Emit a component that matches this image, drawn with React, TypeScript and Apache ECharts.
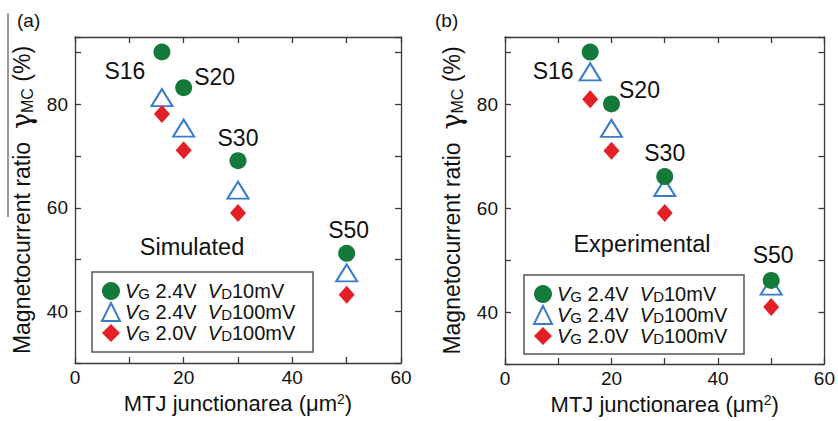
import React, { useEffect, useRef } from "react";
import * as echarts from "echarts";

// ---- data ----
const areas = [16, 20, 30, 50];
const sampleNames = ["S16", "S20", "S30", "S50"];
const simVg24Vd10 = [90.1, 83.2, 69.1, 51.2];
const simVg24Vd100 = [81.3, 75.4, 63.4, 47.4];
const simVg20Vd100 = [78.1, 71.1, 59.0, 43.2];
const expVg24Vd10 = [90.1, 80.1, 66.1, 46.1];
const expVg24Vd100 = [86.3, 75.4, 64.0, 45.0];
const expVg20Vd100 = [81.0, 71.1, 59.1, 41.0];
const seriesNames = ["VG 2.4V VD10mV", "VG 2.4V VD100mV", "VG 2.0V VD100mV"];
const legendRich = [
  "{i|V}{s|G}{n| 2.4V  }{i|V}{s|D}{n|10mV}",
  "{i|V}{s|G}{n| 2.4V  }{i|V}{s|D}{n|100mV}",
  "{i|V}{s|G}{n| 2.0V  }{i|V}{s|D}{n|100mV}",
];
const panelTags = ["(a)", "(b)"];
const panelTitles = ["Simulated", "Experimental"];

// ---- styles ----
const FONT = "Arial, 'Liberation Sans', sans-serif";
const GREEN = "#137a3a";
const BLUE = "#3b7bcc";
const RED = "#e41f26";
const AXIS = "#3a3a3a";
const TXT = "#111";
const grids = [
  { left: 75, top: 37, width: 326, height: 326 },
  { left: 505, top: 37, width: 326, height: 327 },
];
const labelOffsets = [
  [[-37, 19], [31, -11], [0, -23], [2, -23]],
  [[-37, 19], [28, -14], [0, -24], [2, -25]],
];

export default function App() {
  const ref = useRef<HTMLDivElement>(null);
  useEffect(() => {
    const chart = echarts.init(ref.current!, null, { renderer: "svg" });
    const lineStyle = { color: AXIS, width: 1.3 };
    const xAxes: any[] = [];
    const yAxes: any[] = [];
    const series: any[] = [];
    const panelData = [
      [simVg24Vd10, simVg24Vd100, simVg20Vd100],
      [expVg24Vd10, expVg24Vd100, expVg20Vd100],
    ];
    grids.forEach((_, g) => {
      xAxes.push({
        gridIndex: g, type: "value", min: 0, max: 60, interval: 10, position: "bottom",
        axisLine: { show: true, onZero: false, lineStyle },
        axisTick: { inside: true, length: 6, lineStyle },
        axisLabel: {
          fontSize: 19, color: TXT, fontFamily: FONT, margin: 5,
          formatter: (v: number) => (v % 20 === 0 ? String(v) : ""),
        },
        splitLine: { show: false },
        name: "MTJ junctionarea ({n|μm}{sup|2}{n|)}",
        nameLocation: "middle", nameGap: 29,
        nameTextStyle: {
          fontSize: 22, color: TXT, fontFamily: FONT,
          rich: {
            n: { fontSize: 22, fontFamily: FONT, color: TXT },
            sup: { fontSize: 14, fontFamily: FONT, color: TXT, verticalAlign: "top", lineHeight: 22 },
          },
        },
      });
      xAxes.push({
        gridIndex: g, type: "value", min: 0, max: 60, interval: 10, position: "top",
        axisLine: { show: true, onZero: false, lineStyle },
        axisTick: { inside: true, length: 6, lineStyle },
        axisLabel: { show: false }, splitLine: { show: false },
      });
      yAxes.push({
        gridIndex: g, type: "value", min: 30, max: 93, interval: 10, position: "left",
        axisLine: { show: true, onZero: false, lineStyle },
        axisTick: { inside: true, length: 6, lineStyle },
        axisLabel: {
          fontSize: 19, color: TXT, fontFamily: FONT, margin: 7,
          formatter: (v: number) => (v % 20 === 0 ? String(v) : ""),
        },
        splitLine: { show: false },
        name: "Magnetocurrent ratio  {g|γ}{sub|MC} (%)",
        nameLocation: "middle", nameGap: 40,
        nameTextStyle: {
          fontSize: 23, color: TXT, fontFamily: FONT,
          rich: {
            g: { fontSize: 27, fontFamily: "'DejaVu Serif', serif", color: TXT },
            sub: { fontSize: 16, fontFamily: FONT, color: TXT, verticalAlign: "bottom" },
          },
        },
      });
      yAxes.push({
        gridIndex: g, type: "value", min: 30, max: 93, interval: 10, position: "right",
        axisLine: { show: true, onZero: false, lineStyle },
        axisTick: { inside: true, length: 6, lineStyle },
        axisLabel: { show: false }, splitLine: { show: false },
      });
      const [gr, tr, rd] = panelData[g];
      const xi = g * 2;
      series.push({
        type: "scatter", name: seriesNames[1], xAxisIndex: xi, yAxisIndex: xi, z: 2,
        symbol: "triangle", symbolSize: [21, 17],
        itemStyle: { color: "rgba(255,255,255,0)", borderColor: BLUE, borderWidth: 2, opacity: 1 },
        data: areas.map((a, k) => [a, tr[k]]),
      });
      series.push({
        type: "scatter", name: seriesNames[2], xAxisIndex: xi, yAxisIndex: xi, z: 3,
        symbol: "diamond", symbolSize: [16, 18],
        itemStyle: { color: RED, opacity: 1 },
        data: areas.map((a, k) => [a, rd[k]]),
      });
      series.push({
        type: "scatter", name: seriesNames[0], xAxisIndex: xi, yAxisIndex: xi, z: 4,
        symbol: "circle", symbolSize: 17,
        itemStyle: { color: GREEN, opacity: 1 },
        data: areas.map((a, k) => ({
          value: [a, gr[k]],
          label: {
            show: true, position: "inside", formatter: sampleNames[k],
            offset: labelOffsets[g][k], fontSize: 23, color: TXT, fontFamily: FONT,
            textBorderWidth: 0, opacity: 1,
          },
        })),
      });
    });
    const legendTextStyle = {
      fontFamily: FONT, color: TXT,
      rich: {
        i: { fontSize: 20, fontStyle: "italic", fontFamily: FONT, color: TXT, verticalAlign: "bottom", lineHeight: 20 },
        s: { fontSize: 15, fontFamily: FONT, color: TXT, verticalAlign: "bottom", lineHeight: 18 },
        n: { fontSize: 20, fontFamily: FONT, color: TXT, verticalAlign: "bottom", lineHeight: 20 },
      },
    };
    const legendFormatter = (name: string) => legendRich[seriesNames.indexOf(name)];
    const legends = [
      { left: 101, top: 281 },
      { left: 533, top: 284 },
    ].map((p) => ({
      ...p, orient: "vertical", itemWidth: 18, itemHeight: 18, itemGap: 1, padding: 0,
      data: seriesNames, selectedMode: false, textStyle: legendTextStyle, formatter: legendFormatter,
    }));
    const graphic: any[] = [
      { type: "rect", shape: { x: 92, y: 272, width: 221, height: 80 }, style: { fill: "none", stroke: "#555", lineWidth: 1.5 } },
      { type: "rect", shape: { x: 524, y: 275, width: 220, height: 79 }, style: { fill: "none", stroke: "#555", lineWidth: 1.5 } },
      { type: "line", shape: { x1: 8, y1: 13, x2: 8, y2: 217 }, style: { stroke: "#333", lineWidth: 1 } },
      { type: "text", x: 17, y: 20, style: { text: panelTags[0], font: `19px ${FONT}`, fill: TXT, verticalAlign: "middle" } },
      { type: "text", x: 435, y: 20, style: { text: panelTags[1], font: `19px ${FONT}`, fill: TXT, verticalAlign: "middle" } },
      { type: "text", x: 192, y: 247, style: { text: panelTitles[0], font: `23.5px ${FONT}`, fill: TXT, align: "center", verticalAlign: "middle" } },
      { type: "text", x: 642, y: 244, style: { text: panelTitles[1], font: `23.5px ${FONT}`, fill: TXT, align: "center", verticalAlign: "middle" } },
    ];
    chart.setOption({
      animation: false,
      backgroundColor: "#fff",
      grid: grids,
      xAxis: xAxes,
      yAxis: yAxes,
      series,
      legend: legends,
      graphic,
    });
    return () => chart.dispose();
  }, []);
  return <div ref={ref} style={{ position: "absolute", left: 0, top: 0, width: 838, height: 421 }} />;
}
